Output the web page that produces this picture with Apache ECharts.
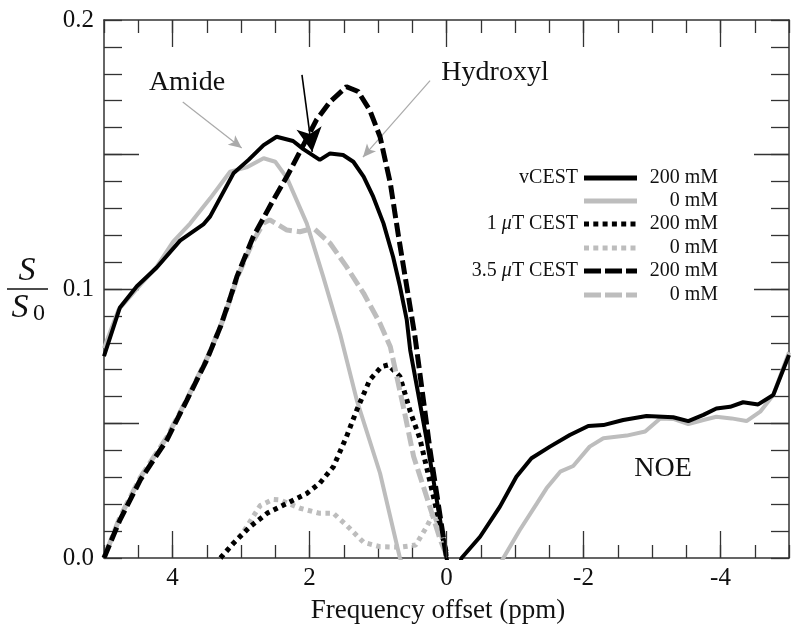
<!DOCTYPE html>
<html>
<head>
<meta charset="utf-8">
<script src="https://cdn.jsdelivr.net/npm/echarts@6/dist/echarts.min.js"></script>
<style>
html,body{margin:0;padding:0;background:#fff;}
#chart{width:800px;height:635px;}
</style>
</head>
<body>
<div id="chart"></div>
<script>
// ---- data (ppm offset, S/S0) ----
const vcest200 = [[5.0,0.075],[4.77,0.093],[4.52,0.101],[4.23,0.108],[3.89,0.118],[3.55,0.124],[3.45,0.127],[3.11,0.143],[2.89,0.148],[2.67,0.1535],[2.48,0.1566],[2.24,0.155],[2.09,0.152],[1.85,0.148],[1.70,0.1504],[1.51,0.1498],[1.36,0.1473],[1.21,0.1418],[1.07,0.1343],[0.92,0.1244],[0.78,0.112],[0.68,0.101],[0.58,0.0885],[0.53,0.0773],[0.29,0.044],[0.0,0.0],[-0.1,-0.01],[-0.22,0.0],[-0.49,0.0079],[-0.78,0.0191],[-1.02,0.0302],[-1.24,0.0371],[-1.51,0.0414],[-1.80,0.0457],[-2.07,0.0491],[-2.29,0.0494],[-2.58,0.0513],[-2.92,0.0528],[-3.31,0.0523],[-3.53,0.0509],[-3.75,0.0532],[-3.94,0.0556],[-4.14,0.0562],[-4.33,0.0579],[-4.55,0.0571],[-4.77,0.0606],[-5.0,0.0755]];
const vcest0 = [[5.0,0.078],[4.79,0.0922],[4.47,0.1015],[4.23,0.1083],[3.99,0.1176],[3.74,0.1244],[3.45,0.1337],[3.16,0.1436],[2.92,0.1452],[2.67,0.1486],[2.50,0.1473],[2.33,0.1413],[2.04,0.1244],[1.80,0.1046],[1.55,0.083],[1.31,0.0587],[0.97,0.0315],[0.68,0.0],[0.0,-0.04],[-0.83,0.0],[-1.07,0.0104],[-1.32,0.0203],[-1.46,0.0259],[-1.66,0.0321],[-1.85,0.0342],[-2.09,0.0414],[-2.29,0.0445],[-2.63,0.0455],[-2.90,0.047],[-3.12,0.0519],[-3.31,0.0517],[-3.53,0.0498],[-3.75,0.0513],[-3.94,0.0525],[-4.16,0.0519],[-4.38,0.0509],[-4.58,0.0544],[-4.77,0.0606],[-5.0,0.0765]];
const cest1uT200 = [[3.30,0.0],[3.11,0.0055],[2.87,0.0116],[2.62,0.0166],[2.33,0.0203],[2.04,0.024],[1.85,0.0278],[1.65,0.034],[1.46,0.0451],[1.31,0.055],[1.12,0.0662],[0.95,0.0711],[0.85,0.0718],[0.68,0.0675],[0.53,0.0545],[0.39,0.0445],[0.19,0.0228],[0.09,0.0116],[0.0,0.0017]];
const cest1uT0 = [[3.30,0.0],[3.11,0.0055],[2.97,0.0095],[2.72,0.0195],[2.53,0.0218],[2.43,0.0216],[2.14,0.0185],[1.85,0.0166],[1.65,0.0166],[1.46,0.0122],[1.21,0.0058],[0.97,0.0042],[0.68,0.0040],[0.45,0.0048],[0.29,0.0116],[0.19,0.0166],[0.10,0.011],[0.0,0.0017]];
const cest35uT200 = [[5.0,0.0],[4.77,0.014],[4.47,0.029],[4.08,0.044],[3.79,0.0587],[3.50,0.0736],[3.30,0.0860],[3.16,0.0965],[3.06,0.1046],[2.82,0.1195],[2.53,0.133],[2.33,0.1418],[2.14,0.151],[1.90,0.1628],[1.70,0.1696],[1.46,0.1752],[1.29,0.1734],[1.12,0.1665],[0.97,0.1566],[0.82,0.1393],[0.70,0.1195],[0.58,0.1009],[0.46,0.0823],[0.24,0.0401],[0.0,0.0]];
const cest35uT0 = [[5.0,0.0],[4.77,0.015],[4.47,0.030],[4.08,0.045],[3.79,0.059],[3.50,0.074],[3.30,0.086],[3.16,0.096],[3.06,0.104],[2.82,0.118],[2.67,0.1245],[2.58,0.1257],[2.33,0.1219],[2.14,0.1213],[1.94,0.1226],[1.70,0.117],[1.46,0.1083],[1.21,0.0984],[0.97,0.0872],[0.82,0.0785],[0.63,0.0562],[0.48,0.0377],[0.29,0.0228],[0.09,0.0067],[0.0,0.001]];

const xMajorTicks = [4, 2, 0, -2, -4];
const yMajorTicks = [0.05, 0.1, 0.15];
const yMin = 0, yMax = 0.2;

// annotation anchor points (data units)
const amideArrow = [[3.85, 0.1695], [2.99, 0.1524]];
const hydroxylArrow = [[0.24, 0.1775], [1.22, 0.149]];
const blackArrow = [[2.11, 0.1796], [1.96, 0.1510]];

const seriesNames = ['vCEST 200 mM','vCEST 0 mM','1 \u03bcT CEST 200 mM','1 \u03bcT CEST 0 mM','3.5 \u03bcT CEST 200 mM','3.5 \u03bcT CEST 0 mM'];

const BLACK = '#000000';
const GREY = '#bdbdbd';
const SERIF = '"Liberation Serif", "DejaVu Serif", serif';
const AXC = '#333333';

const chart = echarts.init(document.getElementById('chart'), null, {renderer:'canvas'});

const gridRect = {left:104, right:11, top:20, bottom:77};
const tickStyle = {color:AXC, width:1.3};

function xAx(grid, pos, showLine, opts) {
  return Object.assign({
    type:'value', gridIndex:grid, position:pos, min:-5, max:5, inverse:true,
    axisLine:{show:showLine, onZero:false, lineStyle:{color:AXC, width:1.5}},
    splitLine:{show:false}, axisLabel:{show:false}
  }, opts);
}
function yAx(grid, pos, showLine, opts) {
  return Object.assign({
    type:'value', gridIndex:grid, position:pos, min:yMin, max:yMax,
    axisLine:{show:showLine, onZero:false, lineStyle:{color:AXC, width:1.5}},
    splitLine:{show:false}, axisLabel:{show:false}
  }, opts);
}

const lineBase = {type:'line', xAxisIndex:0, yAxisIndex:0, showSymbol:false, symbol:'none', smooth:false, clip:true, silent:true, animation:false};

const option = {
  animation:false,
  backgroundColor:'#ffffff',
  grid:[Object.assign({}, gridRect), Object.assign({}, gridRect)],
  xAxis:[
    xAx(0,'bottom',true,{interval:0.5, axisTick:{show:true, inside:true, length:13, lineStyle:tickStyle},
      axisLabel:{show:true, margin:8, fontFamily:SERIF, fontSize:25, color:'#111',
        formatter:function(v){const r=Math.round(v*2); return (r%4===0)? String(r/2) : '';}}}),
    xAx(0,'top',true,{interval:0.5, axisTick:{show:true, inside:true, length:13, lineStyle:tickStyle}}),
    xAx(1,'bottom',false,{interval:0.5, axisTick:{show:false}}),
    xAx(1,'top',false,{interval:0.5, axisTick:{show:false}})
  ],
  yAxis:[
    yAx(0,'left',true,{interval:0.01, axisTick:{show:true, inside:true, length:18, lineStyle:tickStyle},
      axisLabel:{show:true, margin:10, fontFamily:SERIF, fontSize:25, color:'#111',
        formatter:function(v){const r=Math.round(v*100); return (r%10===0)? (r/100).toFixed(1) : '';}}}),
    yAx(0,'right',true,{interval:0.01, axisTick:{show:true, inside:true, length:18, lineStyle:tickStyle}}),
    yAx(1,'left',false,{axisTick:{show:true, inside:true, length:35, customValues:yMajorTicks, lineStyle:tickStyle}}),
    yAx(1,'right',false,{axisTick:{show:true, inside:true, length:35, customValues:yMajorTicks, lineStyle:tickStyle}})
  ],
  series:[
    Object.assign({}, lineBase, {name:seriesNames[1], data:vcest0, z:2, lineStyle:{color:GREY, width:4}}),
    Object.assign({}, lineBase, {name:seriesNames[0], data:vcest200, z:3, lineStyle:{color:BLACK, width:4}}),
    Object.assign({}, lineBase, {name:seriesNames[3], data:cest1uT0, z:4, lineStyle:{color:GREY, width:5, type:[4.5,4.5], cap:'butt'}}),
    Object.assign({}, lineBase, {name:seriesNames[2], data:cest1uT200, z:5, lineStyle:{color:BLACK, width:5, type:[4.5,4.5], cap:'butt'}}),
    Object.assign({}, lineBase, {name:seriesNames[5], data:cest35uT0, z:6, lineStyle:{color:GREY, width:5, type:[14,5], dashOffset:9}}),
    Object.assign({}, lineBase, {name:seriesNames[4], data:cest35uT200, z:7, lineStyle:{color:BLACK, width:5, type:[14,5]},
      markLine:{silent:true, animation:false, symbol:['none','arrow'], label:{show:false}, emphasis:{disabled:true},
        data:[
          [{coord:amideArrow[0], symbol:'none', lineStyle:{color:'#aaaaaa', width:1.2, type:'solid'}}, {coord:amideArrow[1], symbol:'arrow', symbolSize:[9,13]}],
          [{coord:hydroxylArrow[0], symbol:'none', lineStyle:{color:'#aaaaaa', width:1.2, type:'solid'}}, {coord:hydroxylArrow[1], symbol:'arrow', symbolSize:[9,13]}],
          [{coord:blackArrow[0], symbol:'none', lineStyle:{color:'#000000', width:1.6, type:'solid'}}, {coord:blackArrow[1], symbol:'arrow', symbolSize:[19,24]}]
        ]}})
  ],
  graphic:[]
};

// legend drawn as graphic (label | sample | concentration)
const legendRows = [
  {left:'vCEST', right:'200 mM', color:BLACK, dash:null},
  {left:'', right:'0 mM', color:GREY, dash:null},
  {left:'1 \u03bcT CEST', right:'200 mM', color:BLACK, dash:[5,4.3]},
  {left:'', right:'0 mM', color:GREY, dash:[5,4.3]},
  {left:'3.5 \u03bcT CEST', right:'200 mM', color:BLACK, dash:[17,4]},
  {left:'', right:'0 mM', color:GREY, dash:[17,4]}
];
const legendY = [178, 201, 224, 248, 271, 295];
const g = option.graphic;
legendRows.forEach(function(r,i){
  const y = legendY[i];
  if (r.left) {
    if (r.left.indexOf('\u03bcT') >= 0) {
      const parts = r.left.split('\u03bcT');
      g.push({type:'text', x:578, y:y, style:{text:'{a|'+parts[0]+'}{m|\u03bc}{a|T'+parts[1]+'}', align:'right', verticalAlign:'middle',
        rich:{a:{fontFamily:SERIF, fontSize:20, fill:'#111'}, m:{fontFamily:SERIF, fontSize:20, fontStyle:'italic', fill:'#111'}}}});
    } else {
      g.push({type:'text', x:578, y:y, style:{text:r.left, align:'right', verticalAlign:'middle', fontFamily:SERIF, fontSize:20, fill:'#111'}});
    }
  }
  g.push({type:'line', shape:{x1:584, y1:y, x2:637, y2:y}, style:{stroke:r.color, lineWidth:5, lineDash:r.dash||null}});
  g.push({type:'text', x:718, y:y, style:{text:r.right, align:'right', verticalAlign:'middle', fontFamily:SERIF, fontSize:20, fill:'#111'}});
});

// annotations & axis titles
g.push({type:'text', x:187, y:83, style:{text:'Amide', align:'center', verticalAlign:'middle', fontFamily:SERIF, fontSize:28, fill:'#111'}});
g.push({type:'text', x:495, y:73, style:{text:'Hydroxyl', align:'center', verticalAlign:'middle', fontFamily:SERIF, fontSize:28, fill:'#111'}});
g.push({type:'text', x:663, y:469, style:{text:'NOE', align:'center', verticalAlign:'middle', fontFamily:SERIF, fontSize:28, fill:'#111'}});
g.push({type:'text', x:438, y:611, style:{text:'Frequency offset (ppm)', align:'center', verticalAlign:'middle', fontFamily:SERIF, fontSize:27, fill:'#111'}});
// y-axis title S / S0
g.push({type:'text', x:27, y:271, style:{text:'S', align:'center', verticalAlign:'middle', fontFamily:SERIF, fontStyle:'italic', fontSize:34, fill:'#111'}});
g.push({type:'line', shape:{x1:7, y1:289, x2:48, y2:289}, style:{stroke:'#111', lineWidth:1.6}});
g.push({type:'text', x:20, y:308, style:{text:'S', align:'center', verticalAlign:'middle', fontFamily:SERIF, fontStyle:'italic', fontSize:34, fill:'#111'}});
g.push({type:'text', x:39, y:314, style:{text:'0', align:'center', verticalAlign:'middle', fontFamily:SERIF, fontSize:24, fill:'#111'}});

chart.setOption(option);

// long (major) x ticks on bottom and top, placed through the x axis scale
const LONG_X_TICK = 27;
const yBottom = chart.convertToPixel({yAxisIndex:0}, yMin);
const yTop = chart.convertToPixel({yAxisIndex:0}, yMax);
const tickGraphics = [];
xMajorTicks.forEach(function(v){
  const px = chart.convertToPixel({xAxisIndex:0}, v);
  tickGraphics.push({type:'line', z:50, shape:{x1:px, y1:yBottom, x2:px, y2:yBottom - LONG_X_TICK}, style:{stroke:AXC, lineWidth:1.3}});
  tickGraphics.push({type:'line', z:50, shape:{x1:px, y1:yTop, x2:px, y2:yTop + LONG_X_TICK}, style:{stroke:AXC, lineWidth:1.3}});
});
chart.setOption({graphic: g.concat(tickGraphics)});
</script>
</body>
</html>
